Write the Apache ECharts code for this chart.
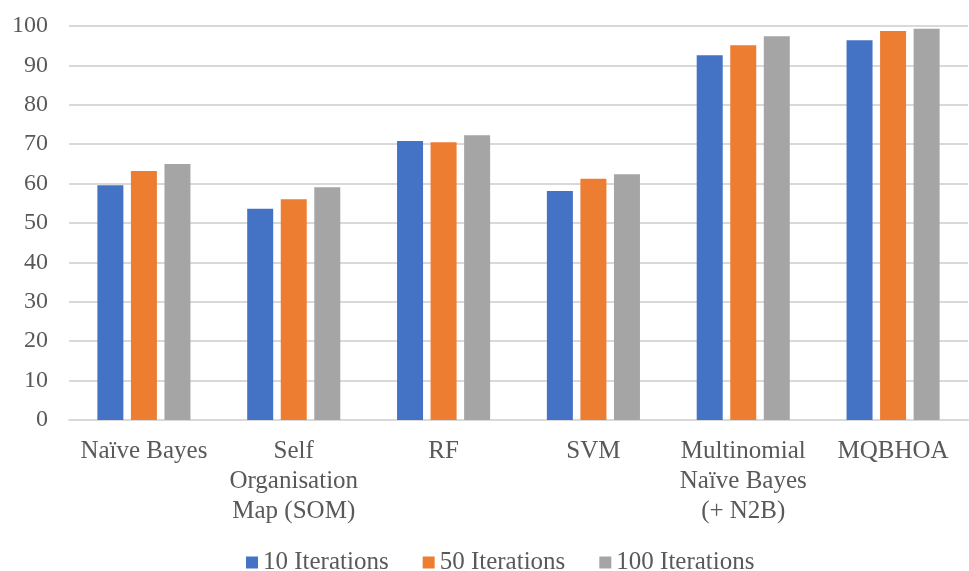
<!DOCTYPE html>
<html>
<head>
<meta charset="utf-8">
<script src="https://cdn.jsdelivr.net/npm/echarts@6/dist/echarts.min.js"></script>
<style>
  html, body { margin: 0; padding: 0; background: #fff; }
  #chart { width: 969px; height: 571px; }
</style>
</head>
<body>
<div id="chart"></div>
<script>
// Classifier accuracy (%) after different numbers of training iterations
const categories = [
  'Naïve Bayes',
  'Self\nOrganisation\nMap (SOM)',
  'RF',
  'SVM',
  'Multinomial\nNaïve Bayes\n(+ N2B)',
  'MQBHOA'
];
const seriesNames = ['10 Iterations', '50 Iterations', '100 Iterations'];
const iter10 = [59.6, 53.6, 70.8, 58.1, 92.6, 96.4];
const iter50 = [63.2, 56.0, 70.5, 61.2, 95.1, 98.7];
const iter100 = [65.0, 59.1, 72.3, 62.4, 97.4, 99.3];
const yTicks = { min: 0, max: 100, interval: 10 };

const colors = ['#4472C4', '#ED7D31', '#A5A5A5'];
const textColor = '#595959';
const fontFamily = '"Liberation Serif", "Times New Roman", serif';

const chart = echarts.init(document.getElementById('chart'));

const makeSeries = (name, data, color) => ({
  name: name,
  type: 'bar',
  data: data,
  barWidth: 26,
  barGap: '29%',
  itemStyle: { color: color },
  emphasis: { disabled: true }
});

chart.setOption({
  animation: false,
  color: colors,
  textStyle: { fontFamily: fontFamily },
  grid: { left: 69, right: 1, top: 26, bottom: 151, containLabel: false },
  legend: {
    data: seriesNames,
    left: 246,
    top: 550,
    padding: 0,
    itemWidth: 12,
    itemHeight: 12,
    itemGap: 34,
    icon: 'rect',
    textStyle: { color: textColor, fontSize: 25, fontFamily: fontFamily }
  },
  xAxis: {
    type: 'category',
    data: categories,
    axisLine: { show: true, lineStyle: { color: '#d9d9d9', width: 2 } },
    axisTick: { show: false },
    axisLabel: {
      interval: 0,
      color: textColor,
      fontSize: 25,
      lineHeight: 30,
      margin: 16,
      fontFamily: fontFamily
    }
  },
  yAxis: {
    type: 'value',
    min: yTicks.min,
    max: yTicks.max,
    interval: yTicks.interval,
    axisLine: { show: false },
    axisTick: { show: false },
    axisLabel: { color: textColor, fontSize: 24, margin: 21, fontFamily: fontFamily },
    splitLine: { lineStyle: { color: '#d9d9d9', width: 2 } }
  },
  series: [
    makeSeries(seriesNames[0], iter10, colors[0]),
    makeSeries(seriesNames[1], iter50, colors[1]),
    makeSeries(seriesNames[2], iter100, colors[2])
  ]
});
</script>
</body>
</html>
